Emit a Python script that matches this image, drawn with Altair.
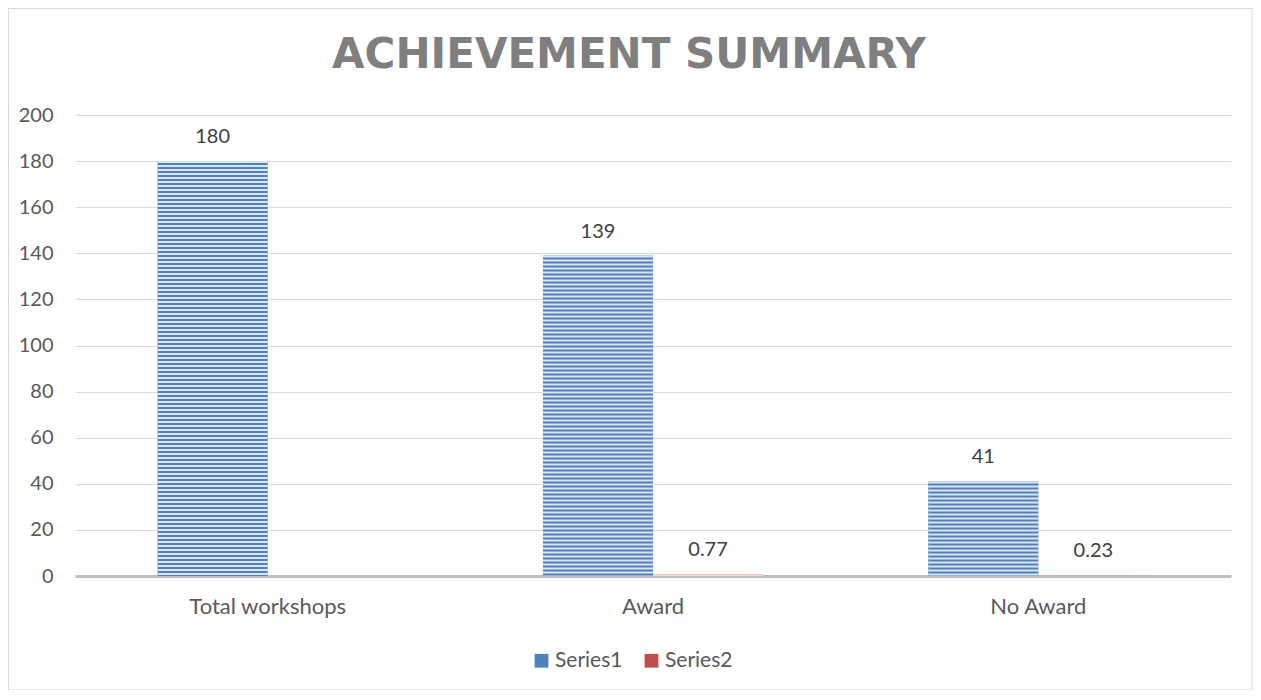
import altair as alt
import pandas as pd

title_text = "ACHIEVEMENT SUMMARY"
categories = ["Total workshops", "Award", "No Award"]
series1 = [180, 139, 41]
series2 = [None, 0.77, 0.23]
series_names = ["Series1", "Series2"]
dark_colors = ["#4f81bd", "#c0504d"]
light_colors = ["#dce6f2", "#f2dcdb"]

rows = []
for c, a, b in zip(categories, series1, series2):
    rows.append({"cat": c, "series": "Series1", "value": a, "label": f"{a:g}"})
    if b is not None:
        rows.append({"cat": c, "series": "Series2", "value": b, "label": f"{b:g}"})
df = pd.DataFrame(rows)

FONT = "Lato"
TXT = "#595959"

x_enc = alt.X("cat:N", sort=categories, title=None,
              scale=alt.Scale(paddingInner=0.4286, paddingOuter=0.2143),
              axis=alt.Axis(labelAngle=0, labelFontSize=22, labelColor=TXT, labelFont=FONT,
                            ticks=False, domainColor="#bfbfbf", domainWidth=3,
                            labelPadding=20, labelBaseline="top", grid=False))
xoff = alt.XOffset("series:N", sort=series_names, scale=alt.Scale(paddingInner=0, paddingOuter=0))
y_enc = alt.Y("value:Q", title=None,
              scale=alt.Scale(domain=[0, 200]),
              axis=alt.Axis(values=list(range(0, 201, 20)), labelFontSize=20, labelColor=TXT,
                            labelFont=FONT, ticks=False, domain=False, labelPadding=22,
                            gridColor="#d9d9d9", gridWidth=1))

base = alt.Chart(df)

bars = base.mark_bar().encode(
    x=x_enc, xOffset=xoff, y=y_enc,
    color=alt.Color("series:N", sort=series_names,
                    scale=alt.Scale(domain=series_names, range=dark_colors),
                    legend=alt.Legend(title=None, orient="none", direction="horizontal",
                                      legendX=456, legendY=535, symbolType="square",
                                      symbolSize=190, labelFontSize=21, labelColor=TXT,
                                      labelFont=FONT, columnPadding=18, symbolStrokeWidth=0,
                                      labelOffset=3)),
)

stripes = base.mark_rule(strokeWidth=110, strokeDash=[2, 2], strokeCap="butt").encode(
    x=x_enc, xOffset=xoff, y=y_enc, y2=alt.datum(0),
    stroke=alt.Stroke("series:N", sort=series_names,
                      scale=alt.Scale(domain=series_names, range=light_colors), legend=None),
)

labels = base.mark_text(baseline="alphabetic", dy=-18, fontSize=20, font=FONT, color="#404040").encode(
    x=x_enc, xOffset=xoff, y=y_enc, text="label:N",
)

single = alt.Chart(pd.DataFrame({"t": [title_text]}))

frame = single.mark_rect(fill=None, stroke="#d9d9d9", strokeWidth=1).encode(
    x=alt.value(-66.5), x2=alt.value(1177), y=alt.value(-106.5), y2=alt.value(575),
)

title = single.mark_text(font="DejaVu Sans", fontSize=42, fontWeight="bold", color="#7f7f7f",
                         align="center", baseline="alphabetic").encode(
    x=alt.value(554), y=alt.value(-47), text="t:N",
)

chart = alt.layer(frame, bars, stripes, labels, title).resolve_scale(color="independent").properties(
    width=1156, height=461,
    autosize=alt.AutoSizeParams(type="none"),
    padding={"left": 67, "top": 107, "right": 22, "bottom": 114},
    background="white",
).configure_view(stroke=None)

chart.save("out.html", embed_options={"renderer": "svg", "actions": False})
